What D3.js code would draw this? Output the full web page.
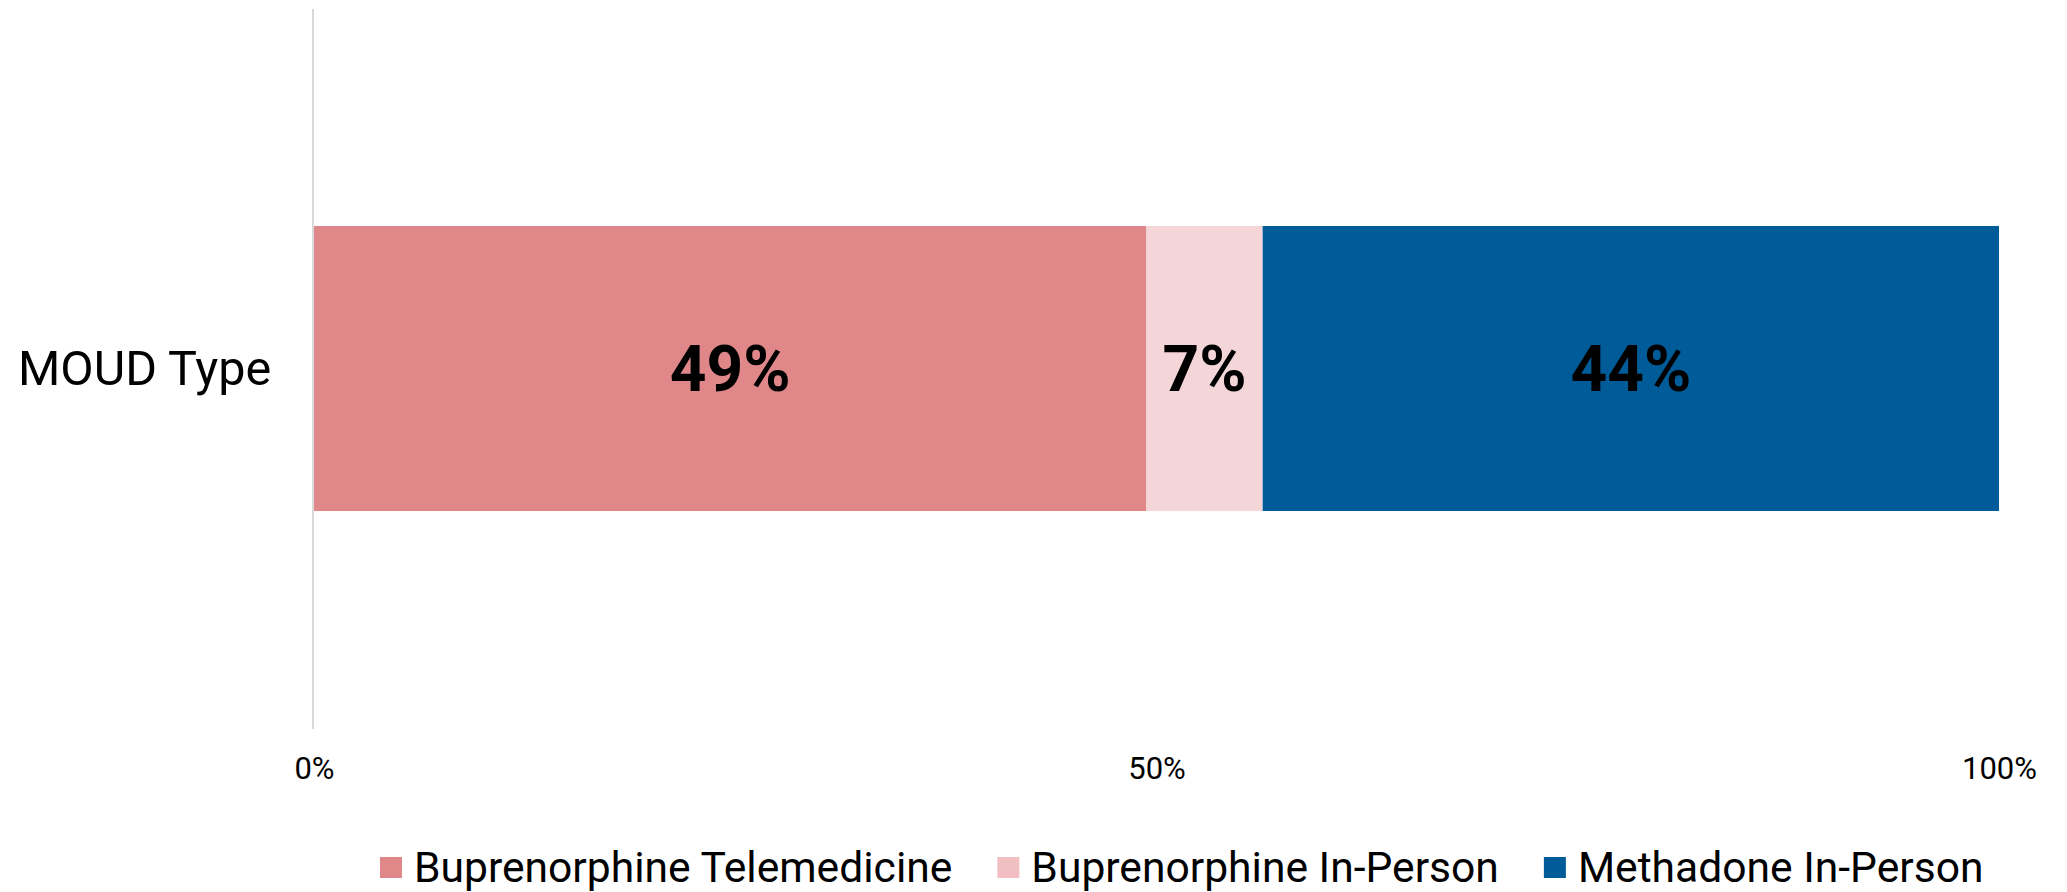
<!DOCTYPE html>
<html>
<head>
<meta charset="utf-8">
<script src="https://cdn.jsdelivr.net/npm/d3@7"></script>
<style>
  body { margin: 0; background: #fff; }
  svg { display: block; font-family: Roboto, "Noto Sans", sans-serif; }
</style>
</head>
<body>
<div id="chart"></div>
<script>
// chart data
const categories = ['MOUD Type'];
const seriesNames = ['Buprenorphine Telemedicine', 'Buprenorphine In-Person', 'Methadone In-Person'];
const seriesValues = [49.4, 6.9, 43.7];
const valueLabels = ['49%', '7%', '44%'];
const tickValues = [0, 50, 100];
const tickLabels = ['0%', '50%', '100%'];

const barColors = ['#e0878a', '#f4d6d8', '#005c99'];
const legendColors = ['#e0878a', '#f1bfc1', '#005c99'];

const width = 2067, height = 892;

const svg = d3.select('#chart').append('svg')
    .attr('width', width)
    .attr('height', height);

const x = d3.scaleLinear().domain([0, 100]).range([314, 1999]);

// stacked segments
let acc = 0;
const segs = seriesValues.map((v, i) => {
    const s = { i, x0: acc, x1: acc + v, label: valueLabels[i] };
    acc += v;
    return s;
});

const barTop = 226, barH = 285;

svg.selectAll('rect.seg')
    .data(segs)
    .enter().append('rect')
    .attr('class', 'seg')
    .attr('x', d => x(d.x0))
    .attr('width', d => x(d.x1) - x(d.x0))
    .attr('y', barTop)
    .attr('height', barH)
    .attr('fill', d => barColors[d.i]);

// vertical category axis line
svg.append('line')
    .attr('x1', 313).attr('x2', 313)
    .attr('y1', 9).attr('y2', 729)
    .attr('stroke', '#d9d9d9')
    .attr('stroke-width', 2);

// category label
svg.append('text')
    .attr('x', 18)
    .attr('y', barTop + barH / 2)
    .attr('dy', '0.35em')
    .attr('font-size', 48.5)
    .attr('fill', '#000')
    .text(categories[0]);

// value labels
svg.selectAll('text.val')
    .data(segs)
    .enter().append('text')
    .attr('class', 'val')
    .attr('x', d => (x(d.x0) + x(d.x1)) / 2)
    .attr('y', barTop + barH / 2)
    .attr('dy', '0.35em')
    .attr('text-anchor', 'middle')
    .attr('font-size', 64)
    .attr('font-weight', 'bold')
    .attr('fill', '#000')
    .text(d => d.label);

// x axis tick labels
const xAxis = d3.axisBottom(x)
    .tickValues(tickValues)
    .tickFormat((d, i) => tickLabels[i])
    .tickSize(0)
    .tickPadding(0);

const gx = svg.append('g')
    .attr('transform', 'translate(0,757)')
    .call(xAxis);
gx.select('.domain').remove();
gx.selectAll('text')
    .attr('font-size', 31)
    .attr('font-family', 'Roboto, sans-serif')
    .attr('fill', '#000')
    .attr('dy', '0.71em');

// legend
const legend = svg.append('g').attr('transform', 'translate(380,0)');
let lx = 0;
seriesNames.forEach((name, i) => {
    const g = legend.append('g').attr('transform', `translate(${lx},0)`);
    g.append('rect')
        .attr('x', 0).attr('y', 857)
        .attr('width', 22).attr('height', 21)
        .attr('fill', legendColors[i]);
    const t = g.append('text')
        .attr('x', 34).attr('y', 882)
        .attr('font-size', 42.6)
        .attr('fill', '#000')
        .text(name);
    lx += 34 + t.node().getComputedTextLength() + 45;
});
</script>
</body>
</html>
